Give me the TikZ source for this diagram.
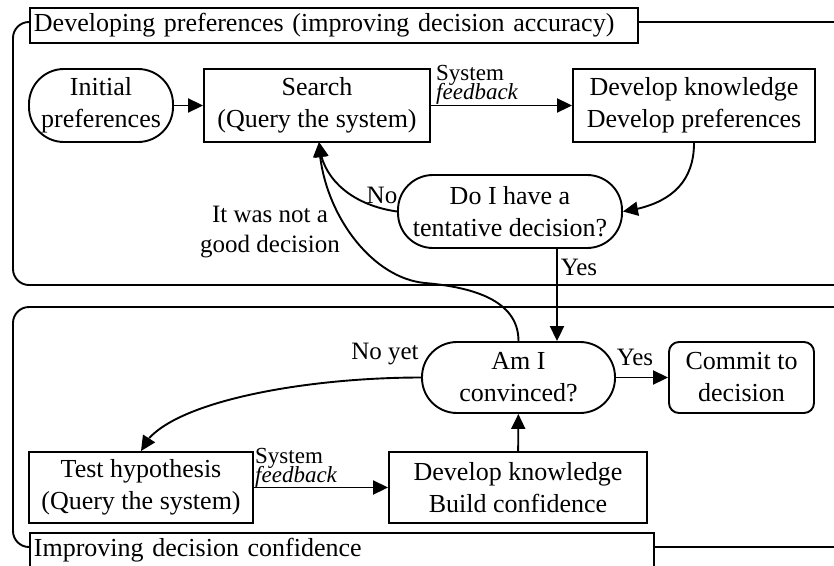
\documentclass[tikz,border=0pt]{standalone}
\usepackage{fontspec}
\setmainfont{Liberation Serif}
\usetikzlibrary{arrows.meta,bending}
\begin{document}
\begin{tikzpicture}[x=1pt,y=-1pt,
  every node/.style={font=\fontsize{26}{32}\selectfont, inner sep=0pt},
  lw/.style={line width=1.9pt},
  box/.style={draw, lw, rectangle, align=center},
  pill/.style={draw, lw, rectangle, rounded corners=35pt, align=center},
  rbox/.style={draw, lw, rounded corners=10pt, align=center},
  frame/.style={draw, lw, rounded corners=16pt},
  title/.style={draw, lw, fill=white, anchor=north west, align=left, inner xsep=4pt, minimum height=35pt},
  flow/.style={lw, -{Triangle[length=15pt,width=14pt]}},
  lbl/.style={font=\fontsize{25}{30}\selectfont, align=center},
  fb/.style={font=\fontsize{23}{23}\selectfont, anchor=base west},
]
\useasboundingbox (0,0) rectangle (834,565);

% phase frames with their titles
\begin{scope}
  \clip (0,0) rectangle (834,565);
  \draw[frame] (13,22) rectangle (880,285);
  \draw[frame] (13,307) rectangle (880,547);
  \node[title, text width=600pt] (ttop) at (29,7) {Developing preferences (improving decision accuracy)};
  \node[title, text width=616pt] (tbot) at (29,532) {Improving decision confidence};
\end{scope}

% upper phase
\node[pill, minimum width=144pt, minimum height=73pt] (init) at (101,105.5) {Initial\\preferences};
\node[box, minimum width=226pt, minimum height=73pt] (search) at (317,105.5) {Search\\(Query the system)};
\node[box, minimum width=242pt, minimum height=73pt] (dev) at (694,105.5) {Develop knowledge\\Develop preferences};
\node[pill, minimum width=224pt, minimum height=73pt] (decide) at (510,211.5) {Do I have a\\tentative decision?};

% lower phase
\node[pill, minimum width=193pt, minimum height=71pt] (conv) at (518.5,377.5) {Am I\\convinced?};
\node[rbox, minimum width=145pt, minimum height=71pt] (commit) at (741.5,377.5) {Commit to\\decision};
\node[box, minimum width=258pt, minimum height=71pt] (build) at (518,487.5) {Develop knowledge\\Build confidence};
\node[box, minimum width=224pt, minimum height=71pt] (test) at (141,487.5) {Test hypothesis\\(Query the system)};

% helper points
\coordinate (ycol) at (557,0);
\coordinate (kink) at (425,283);
\coordinate (sin) at (319,142);

% connectors
\draw[flow] (init) -- (search);
\draw[flow] (search) -- (dev);
\node[fb] (sys1) at (436,80) {System};
\node[fb] (fb1) at (436,99) {\itshape feedback};

\draw[flow] (dev.south) .. controls +(0,43) and +(43,-6) .. (decide.east);
\draw[flow] (decide.west) .. controls +(-43,-6) and +(2,38) .. (sin);
\node[lbl] (no) at (382,195) {No};

\draw[lw] (conv.north) .. controls +(0,-42) and +(45,4) .. (kink);
\draw[flow] (kink) .. controls +(-55,-5) and +(2,68) .. (sin);
\node[lbl] (bad) at (270,232) {It was not a\\good decision};

\draw[flow] (decide.south -| ycol) -- (conv.north -| ycol);
\node[lbl] (yes1) at (579,267) {Yes};

\draw[flow] (conv) -- (commit);
\node[lbl] (yes2) at (635,357) {Yes};

\draw[flow] (build) -- (conv);
\draw[flow] (test) -- (build);
\node[fb] (sys2) at (255,463) {System};
\node[fb] (fb2) at (255,482) {\itshape feedback};

\draw[flow] (conv.west) .. controls +(-122,0) and +(17,-47) .. (test.north);
\node[lbl] (noyet) at (385,354) {No yet};
\end{tikzpicture}
\end{document}
